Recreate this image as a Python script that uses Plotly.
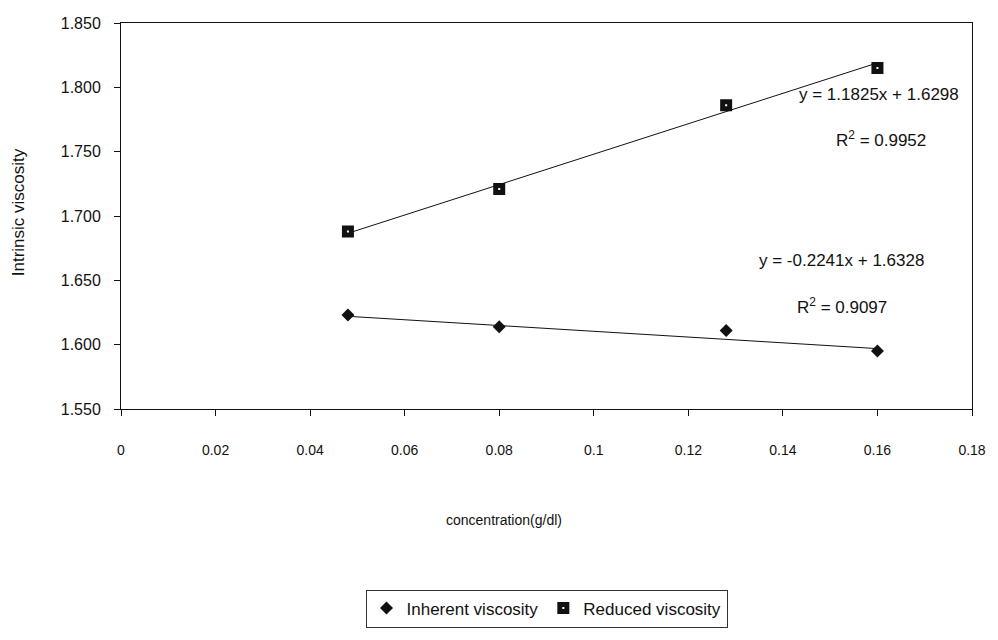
import plotly.graph_objects as go

# Measured viscosities at each polymer concentration
concentration = [0.048, 0.08, 0.128, 0.16]
inherent_viscosity = [1.623, 1.614, 1.611, 1.595]
reduced_viscosity = [1.688, 1.721, 1.786, 1.815]

# Linear trendline coefficients (slope, intercept) and R^2
inherent_fit = [-0.2241, 1.6328]
reduced_fit = [1.1825, 1.6298]
inherent_r2 = 0.9097
reduced_r2 = 0.9952

# Axis ticks
x_tickvals = [0, 0.02, 0.04, 0.06, 0.08, 0.1, 0.12, 0.14, 0.16, 0.18]
x_ticktext = ["0", "0.02", "0.04", "0.06", "0.08", "0.1", "0.12", "0.14", "0.16", "0.18"]
y_tickvals = [1.55, 1.60, 1.65, 1.70, 1.75, 1.80, 1.85]
y_ticktext = ["1.550", "1.600", "1.650", "1.700", "1.750", "1.800", "1.850"]

FONT = "Liberation Sans, Arial, sans-serif"
INK = "#111111"


def trend(fit):
    xs = [min(concentration), max(concentration)]
    return xs, [fit[0] * x + fit[1] for x in xs]


def equation(fit):
    sign = "+" if fit[1] >= 0 else "-"
    return f"y = {fit[0]:.4f}x {sign} {abs(fit[1]):.4f}"


fig = go.Figure()

# Trendlines
for fit in (inherent_fit, reduced_fit):
    tx, ty = trend(fit)
    fig.add_trace(go.Scatter(
        x=tx, y=ty, mode="lines", showlegend=False, hoverinfo="skip",
        line=dict(color=INK, width=1),
    ))

fig.add_trace(go.Scatter(
    x=concentration, y=inherent_viscosity, mode="markers",
    name="Inherent viscosity",
    marker=dict(symbol="diamond", size=10, color=INK, line=dict(width=0)),
))
fig.add_trace(go.Scatter(
    x=concentration, y=reduced_viscosity, mode="markers",
    name="Reduced viscosity",
    marker=dict(symbol="square", size=7, color="white",
                line=dict(color=INK, width=5)),
))

ann_font = dict(family=FONT, size=17, color=INK)
annotations = [
    dict(x=0.1604, y=1.7946, text=equation(reduced_fit)),
    dict(x=0.1608, y=1.7597, text=f"R<sup>2</sup> = {reduced_r2:.4f}"),
    dict(x=0.1524, y=1.6651, text=equation(inherent_fit)),
    dict(x=0.1525, y=1.6302, text=f"R<sup>2</sup> = {inherent_r2:.4f}"),
]
for a in annotations:
    a.update(xref="x", yref="y", showarrow=False, font=ann_font,
             xanchor="center", yanchor="middle")

# Axis titles
annotations.append(dict(
    text="concentration(g/dl)", xref="paper", yref="paper",
    x=(507 - 121) / 857, y=(410 - 521) / 387, showarrow=False,
    xanchor="center", yanchor="middle",
    font=dict(family=FONT, size=14, color=INK),
))
annotations.append(dict(
    text="Intrinsic viscosity", xref="paper", yref="paper",
    x=(18 - 121) / 857, y=(410 - 213) / 387, showarrow=False, textangle=-90,
    xanchor="center", yanchor="middle",
    font=dict(family=FONT, size=17, color=INK),
))

fig.update_layout(
    width=998, height=640,
    margin=dict(l=121, r=20, t=23, b=230),
    paper_bgcolor="white", plot_bgcolor="white",
    font=dict(family=FONT, color=INK),
    annotations=annotations,
    legend=dict(
        orientation="h", x=0.5, xanchor="center",
        y=(410 - 591) / 387, yanchor="top",
        bordercolor="#333333", borderwidth=1, bgcolor="white",
        font=dict(family=FONT, size=17, color=INK),
        itemwidth=30,
    ),
    xaxis=dict(
        range=[0, 0.18], tickvals=x_tickvals, ticktext=x_ticktext,
        showgrid=False, zeroline=False,
        showline=True, linecolor=INK, linewidth=1, mirror=True,
        ticks="outside", ticklen=6, tickcolor=INK,
        ticklabelstandoff=22,
        tickfont=dict(family=FONT, size=14, color=INK),
    ),
    yaxis=dict(
        range=[1.55, 1.85], tickvals=y_tickvals, ticktext=y_ticktext,
        showgrid=False, zeroline=False,
        showline=True, linecolor=INK, linewidth=1, mirror=True,
        ticks="outside", ticklen=6, tickcolor=INK,
        ticklabelstandoff=10,
        tickfont=dict(family=FONT, size=16, color=INK),
    ),
)

fig.write_html("out.html")
